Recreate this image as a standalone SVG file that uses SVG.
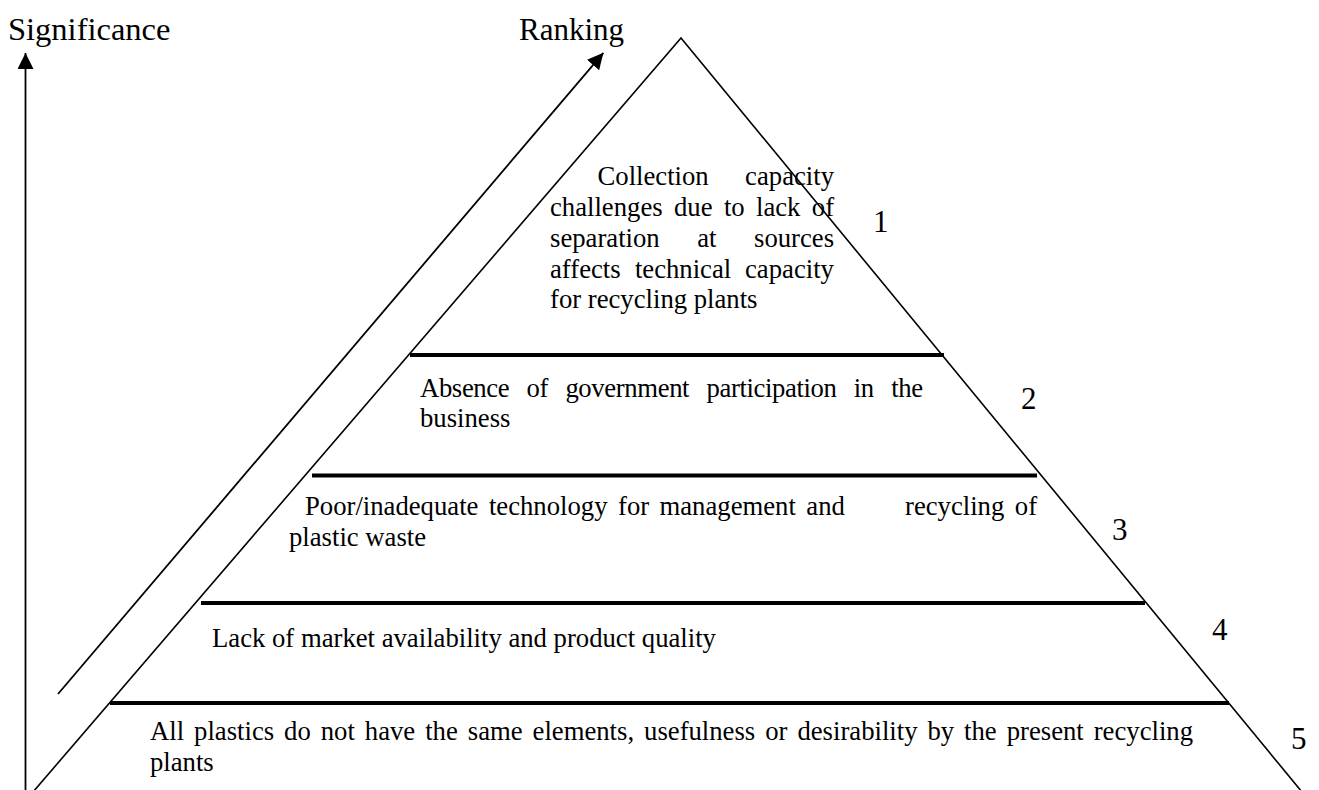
<svg xmlns="http://www.w3.org/2000/svg" width="1319" height="790" viewBox="0 0 1319 790">
<style>
text{font-family:"Liberation Serif","Times New Roman",serif;fill:#000}
.b{font-size:26.7px}
.t{font-size:31px}
.s{font-size:32.5px}
.n{font-size:31px}
.side{fill:none;stroke:#000;stroke-width:1.6}
.tier{stroke:#000;stroke-width:4}
.ax{stroke:#000;stroke-width:1.8;fill:none}
</style>
<defs>
<marker id="ah" markerUnits="userSpaceOnUse" markerWidth="18" markerHeight="18" refX="16" refY="8" orient="auto">
<path d="M0,0 L16,8 L0,16 z" fill="#000"/>
</marker>
</defs>
<rect width="1319" height="790" fill="#fff"/>
<g id="axes">
<line class="ax" x1="25.5" y1="792" x2="25.5" y2="53" marker-end="url(#ah)"/>
<line class="ax" x1="58" y1="694" x2="603.4" y2="52.8" marker-end="url(#ah)"/>
<text class="s" x="8" y="40">Significance</text>
<text class="t" x="519" y="40">Ranking</text>
</g>
<g id="pyramid">
<polyline class="side" points="33,792 681,38 1302,792"/>
<line class="tier" x1="410" y1="355" x2="944" y2="355"/>
<line class="tier" x1="312" y1="475.5" x2="1037" y2="475.5"/>
<line class="tier" x1="201" y1="603" x2="1145" y2="603"/>
<line class="tier" x1="110" y1="703" x2="1229" y2="703"/>
</g>
<g id="tier1">
<text class="b" x="597.5" y="185">Collection</text>
<text class="b" x="834" y="185" text-anchor="end">capacity</text>
<text class="b" y="216"><tspan x="550">challenges</tspan><tspan x="674">due</tspan><tspan x="723.9">to</tspan><tspan x="756">lack</tspan><tspan x="811.8">of</tspan></text>
<text class="b" y="247"><tspan x="550">separation</tspan><tspan x="697.2">at</tspan><tspan x="754">sources</tspan></text>
<text class="b" y="278"><tspan x="550">affects</tspan><tspan x="634.9">technical</tspan><tspan x="745">capacity</tspan></text>
<text class="b" x="550" y="308">for recycling plants</text>
<text class="n" x="873" y="232">1</text>
</g>
<g id="tier2">
<text class="b" x="420" y="397" textLength="503" lengthAdjust="spacing" word-spacing="11">Absence of government participation in the</text>
<text class="b" x="420" y="427">business</text>
<text class="n" x="1021" y="409">2</text>
</g>
<g id="tier3">
<text class="b" y="515"><tspan x="305">Poor/inadequate</tspan><tspan x="488.9">technology</tspan><tspan x="618">for</tspan><tspan x="659.5">management</tspan><tspan x="806.3">and</tspan><tspan x="905">recycling</tspan><tspan x="1014.8">of</tspan></text>
<text class="b" x="289" y="546">plastic waste</text>
<text class="n" x="1112" y="540">3</text>
</g>
<g id="tier4">
<text class="b" x="212" y="647">Lack of market availability and product quality</text>
<text class="n" x="1212" y="640">4</text>
</g>
<g id="tier5">
<text class="b" x="150" y="740" word-spacing="3.3">All plastics do not have the same elements, usefulness or desirability by the present recycling</text>
<text class="b" x="150" y="771">plants</text>
<text class="n" x="1291" y="749">5</text>
</g>
</svg>
